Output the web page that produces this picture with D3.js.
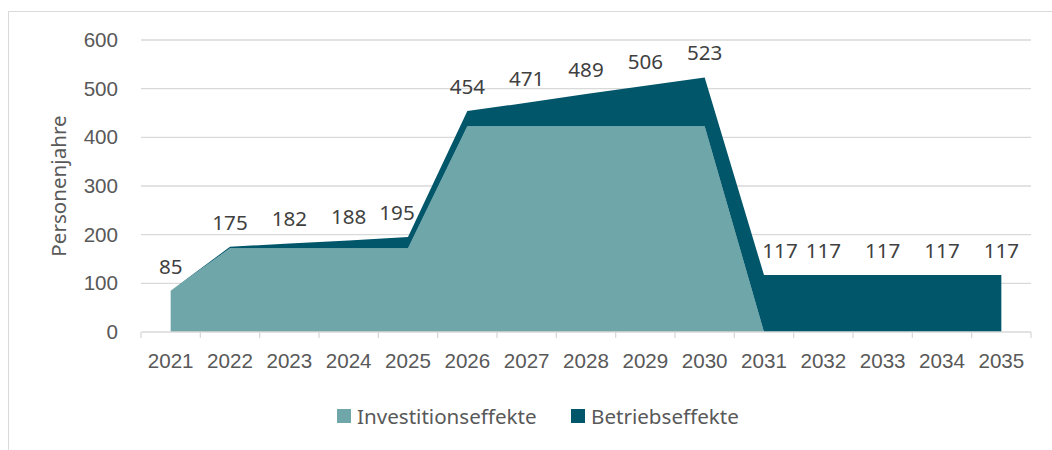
<!DOCTYPE html>
<html>
<head>
<meta charset="utf-8">
<script src="https://cdn.jsdelivr.net/npm/d3@7"></script>
<style>
  body { margin: 0; background: #fff; }
  svg { display: block; font-family: "Noto Sans", sans-serif; }
  .axis text { fill: #595959; font-size: 20.6px; }
  .axis .domain { stroke: #d9d9d9; }
  .axis line { stroke: #d9d9d9; }
  .grid line { stroke: #d9d9d9; stroke-width: 1.3; }
  .label { fill: #404040; font-size: 20.6px; }
  .legend text { fill: #595959; font-size: 20.6px; }
</style>
</head>
<body>
<svg id="chart"></svg>
<script>
// data
const years = ['2021', '2022', '2023', '2024', '2025', '2026', '2027', '2028',
               '2029', '2030', '2031', '2032', '2033', '2034', '2035'];
const investition = [85, 172, 172, 172, 172, 423, 423, 423, 423, 423, 0, 0, 0, 0, 0];
const betrieb = [0, 3, 10, 16, 23, 31, 48, 66, 83, 100, 117, 117, 117, 117, 117];
const totals = [85, 175, 182, 188, 195, 454, 471, 489, 506, 523, 117, 117, 117, 117, 117];
const yTicks = [0, 100, 200, 300, 400, 500, 600];
const seriesNames = ['Investitionseffekte', 'Betriebseffekte'];
const colors = ['#6fa6a9', '#02566a'];

const width = 1052, height = 450;
const margin = {top: 40, right: 21, bottom: 118, left: 141};
const innerW = width - margin.left - margin.right;
const innerH = height - margin.top - margin.bottom;

const svg = d3.select('#chart')
    .attr('width', width)
    .attr('height', height);

// outer chart frame (runs off the right and bottom edges)
svg.append('rect')
    .attr('x', 8.5).attr('y', 11.5)
    .attr('width', width).attr('height', height)
    .attr('fill', 'none')
    .attr('stroke', '#d9d9d9');

const chart = svg.append('g')
    .attr('transform', `translate(${margin.left},${margin.top})`);

const table = years.map((y, i) => ({year: y, inv: investition[i], bet: betrieb[i], total: totals[i]}));

const xBand = d3.scaleBand().domain(years).range([0, innerW]);
const x = d => xBand(d) + xBand.bandwidth() / 2;
const yScale = d3.scaleLinear().domain([0, 600]).range([innerH, 0]);

// gridlines
chart.append('g')
    .attr('class', 'grid')
    .selectAll('line')
    .data(yTicks.filter(t => t > 0))
    .join('line')
    .attr('x1', 0).attr('x2', innerW)
    .attr('y1', d => yScale(d)).attr('y2', d => yScale(d));

// stacked areas
const stack = d3.stack().keys(['inv', 'bet']);
const layers = stack(table);
const area = d3.area()
    .x(d => x(d.data.year))
    .y0(d => yScale(d[0]))
    .y1(d => yScale(d[1]));

chart.selectAll('.layer')
    .data(layers)
    .join('path')
    .attr('class', 'layer')
    .attr('fill', (d, i) => colors[i])
    .attr('d', area);

// y axis
const yAxis = d3.axisLeft(yScale)
    .tickValues(yTicks)
    .tickSize(0)
    .tickPadding(23);
chart.append('g')
    .attr('class', 'axis y-axis')
    .call(yAxis)
    .call(g => g.select('.domain').remove());

// x axis, ticks on category boundaries
const xAxis = d3.axisBottom(xBand)
    .tickSize(0)
    .tickPadding(21);
const xg = chart.append('g')
    .attr('class', 'axis x-axis')
    .attr('transform', `translate(0,${innerH})`)
    .call(xAxis);
xg.select('.domain').attr('d', `M0.5,0H${innerW}`).attr('stroke-width', 1.3);
xg.selectAll('.boundary')
    .data(d3.range(years.length + 1))
    .join('line')
    .attr('class', 'boundary')
    .attr('x1', i => i * xBand.step()).attr('x2', i => i * xBand.step())
    .attr('y1', 0).attr('y2', 6)
    .attr('stroke', '#d9d9d9').attr('stroke-width', 1.3);

// axis title
chart.append('text')
    .attr('transform', `translate(${58 - margin.left},${innerH / 2}) rotate(-90)`)
    .attr('text-anchor', 'middle')
    .attr('dominant-baseline', 'central')
    .attr('fill', '#595959')
    .style('font-size', '20.6px')
    .text('Personenjahre');

// data labels above the totals (two were nudged in the original)
const nudge = {'2025': -11, '2031': 16};
chart.selectAll('.label')
    .data(table)
    .join('text')
    .attr('class', 'label')
    .attr('x', d => x(d.year) + (nudge[d.year] || 0))
    .attr('y', d => yScale(d.total) - 25)
    .attr('text-anchor', 'middle')
    .attr('dominant-baseline', 'central')
    .text(d => d.total);

// legend
const legend = svg.append('g').attr('class', 'legend');
const legendX = [337, 571];
seriesNames.forEach((name, i) => {
  const g = legend.append('g').attr('transform', `translate(${legendX[i]},409)`);
  g.append('rect').attr('width', 14).attr('height', 14).attr('fill', colors[i]);
  g.append('text')
      .attr('x', 20).attr('y', 7)
      .attr('dominant-baseline', 'central')
      .text(name);
});
</script>
</body>
</html>
